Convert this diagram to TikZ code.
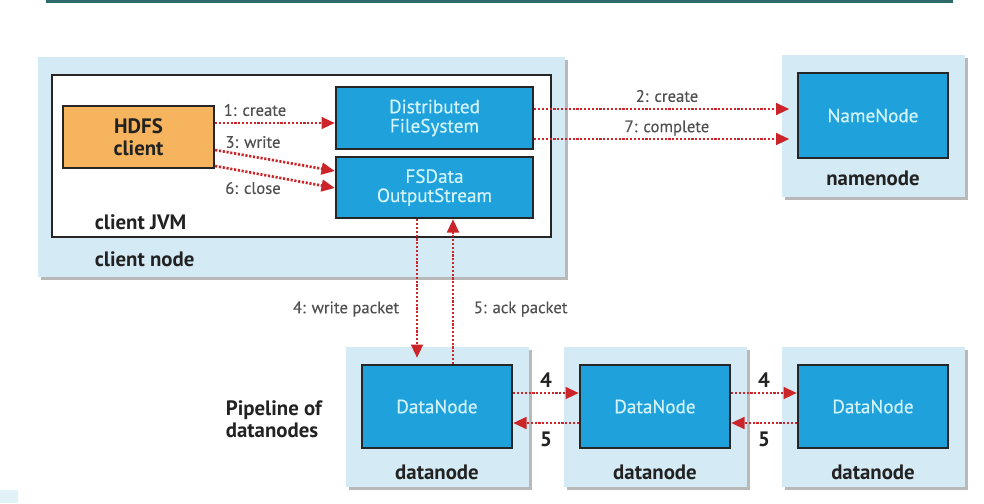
\documentclass[tikz,border=0pt]{standalone}
\usepackage{fontspec}
\setmainfont{PT Sans}
\usetikzlibrary{arrows.meta,shadows}
\definecolor{paleblue}{HTML}{D4EBF5}
\definecolor{hdfsblue}{HTML}{1FA2DC}
\definecolor{boxtext}{HTML}{D3F3FB}
\definecolor{clientorange}{HTML}{F7B45F}
\definecolor{flowred}{HTML}{CC2529}
\definecolor{msggray}{HTML}{505050}
\definecolor{darktext}{HTML}{222222}
\definecolor{rulegreen}{HTML}{2D6A6A}
\tikzset{
  boxsize/.style 2 args={minimum width=#1*0.6pt, minimum height=#2*0.6pt},
  outerbox/.style={fill=paleblue, inner sep=0pt,
    drop shadow={shadow xshift=2pt, shadow yshift=-2pt, fill=black!50, opacity=.55}},
  jvmbox/.style={fill=white, draw=black!85, line width=1.4pt, inner sep=0pt},
  bluebox/.style={fill=hdfsblue, draw=black!85, line width=1.4pt, inner sep=0pt,
    text=boxtext, align=center,
    font=\addfontfeature{FakeBold=0.4}\fontsize{11.5}{11.5}\selectfont},
  clientbox/.style={fill=clientorange, draw=black!85, line width=1.4pt, inner sep=0pt,
    text=darktext, align=center, font=\bfseries\fontsize{12.5}{13.2}\selectfont},
  flow/.style={draw=flowred, line width=1.6pt, dash pattern=on 1.3pt off 1pt,
    -{Triangle[length=8pt,width=7pt]}},
  msg/.style={text=msggray, font=\addfontfeature{FakeBold=0.2}\fontsize{10}{12}\selectfont},
  lbl/.style={text=darktext, align=left, font=\bfseries\fontsize{12.5}{13.2}\selectfont},
}
\begin{document}
\begin{tikzpicture}[x=0.6pt, y=-0.6pt]
\useasboundingbox (0,0) rectangle (984,503);
\draw[rulegreen, line width=1.8pt] (46,1) -- (953,1);
\fill[paleblue!70] (0,490) rectangle (18,503);
% client side
\node[outerbox, boxsize={527}{220}] (clnode) at (301.5,167) {};
\node[jvmbox, boxsize={499}{162}] (jvm) at (301.5,156) {};
\node[clientbox, boxsize={151}{62}] (hdfs) at (138.5,137) {HDFS\\client};
\node[bluebox, boxsize={197}{62}] (dfs) at (434.5,118) {Distributed\\FileSystem};
\node[bluebox, boxsize={197}{61}] (fsd) at (434.5,187.5) {FSData\\OutputStream};
\node[lbl, anchor=west] (jvmlbl) at (89,222) {client JVM};
\node[lbl, anchor=west] (cnlbl) at (89,259) {client node};
% namenode
\node[outerbox, boxsize={183}{142}] (nnbox) at (873.5,126) {};
\node[bluebox, boxsize={150}{85}] (nn) at (873,115.5) {NameNode};
\node[lbl] (nnlbl) at (873,178) {namenode};
% pipeline
\foreach \i/\cx in {1/437, 2/655, 3/873} {
  \node[outerbox, boxsize={183}{140}] (dnbox\i) at (\cx,417) {};
  \node[bluebox, boxsize={150}{83}] (dn\i) at (\cx,406.5) {DataNode};
  \node[lbl] (dnlbl\i) at (\cx,472) {datanode};
}
\node[lbl, anchor=west] (pipe) at (220,419) {Pipeline of\\datanodes};
% client calls
\draw[flow] (hdfs.east |- 0,123) -- (dfs.west |- 0,123);
\draw[flow] (hdfs.east |- 0,150) -- (fsd.west |- 0,171);
\draw[flow] (hdfs.east |- 0,166) -- (fsd.west |- 0,188);
\draw[flow, shorten >=4.5pt] (dfs.east |- 0,109) -- (nn.west |- 0,109);
\draw[flow, shorten >=4.5pt] (dfs.east |- 0,139) -- (nn.west |- 0,139);
\node[msg] (m1) at (255,110) {1: create};
\node[msg] (m3) at (253,142) {3: write};
\node[msg] (m6) at (253,188) {6: close};
\node[msg] (m2) at (667,96) {2: create};
\node[msg] (m7) at (667,128) {7: complete};
% packets
\draw[flow, shorten >=3.6pt] (fsd.south -| 417,0) -- (dn1.north -| 417,0);
\draw[flow] (dn1.north -| 453,0) -- (fsd.south -| 453,0);
\node[msg, anchor=east] (m4) at (405,309) {4: write packet};
\node[msg, anchor=west] (m5) at (468,309) {5: ack packet};
\foreach \a/\b in {1/2, 2/3} {
  \draw[flow] (dn\a.east |- 0,393) -- (dn\b.west |- 0,393)
    node[lbl, midway, above=-1pt] {4};
  \draw[flow] (dn\b.west |- 0,423) -- (dn\a.east |- 0,423)
    node[lbl, midway, below=1pt] {5};
}
\end{tikzpicture}
\end{document}
